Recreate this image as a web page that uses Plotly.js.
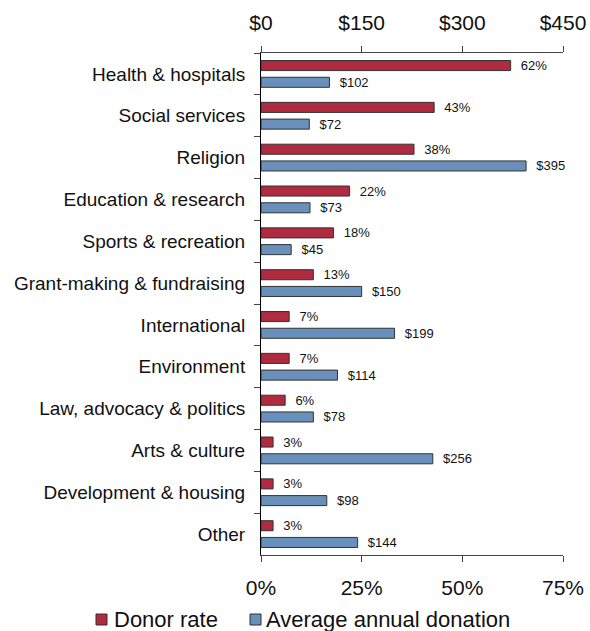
<!DOCTYPE html>
<html>
<head>
<meta charset="utf-8">
<script src="https://cdn.plot.ly/plotly-3.0.1.min.js"></script>
<style>html,body{margin:0;padding:0;background:#fff}#chart{width:590px;height:631px}</style>
</head>
<body>
<div id="chart"></div>
<script>
const categories = ["Health & hospitals","Social services","Religion","Education & research","Sports & recreation","Grant-making & fundraising","International","Environment","Law, advocacy & politics","Arts & culture","Development & housing","Other"];
const donorRate = [62,43,38,22,18,13,7,7,6,3,3,3];
const avgDonation = [102,72,395,73,45,150,199,114,78,256,98,144];
const seriesNames = ["Donor rate","Average annual donation"];
const rateTicks = [0,25,50,75];
const rateTickLabels = ["0%","25%","50%","75%"];
const donationTicks = [0,150,300,450];
const donationTickLabels = ["$0","$150","$300","$450"];

const red = "#B02A40";
const blue = "#6990BA";
const font = "Liberation Sans, Arial, sans-serif";

const W = 590, H = 631;
const M = {l: 261, r: 27, t: 53, b: 76};
const pw = W - M.l - M.r, ph = H - M.t - M.b;
const px2x = px => (px - M.l) / pw;
const py2y = py => (H - M.b - py) / ph;

const traces = [
  {
    type: "bar", orientation: "h", name: seriesNames[0],
    x: donorRate, y: categories, xaxis: "x", yaxis: "y",
    width: 0.24, offset: -0.32,
    marker: {color: red, line: {color: "#333", width: 1}},
    text: donorRate.map(v => "\u00a0\u00a0" + v + "%"),
    textposition: "outside", constraintext: "none", cliponaxis: false,
    textfont: {family: font, size: 13, color: "#111"},
    hoverinfo: "skip", showlegend: false
  },
  {
    type: "bar", orientation: "h", name: seriesNames[1],
    x: avgDonation, y: categories, xaxis: "x2", yaxis: "y",
    width: 0.24, offset: 0.08,
    marker: {color: blue, line: {color: "#333", width: 1}},
    text: avgDonation.map(v => "\u00a0\u00a0$" + v),
    textposition: "outside", constraintext: "none", cliponaxis: false,
    textfont: {family: font, size: 13, color: "#111"},
    hoverinfo: "skip", showlegend: false
  }
];

// manual legend (layout decoration)
const legendItems = [
  {name: seriesNames[0], color: red, sq: 96, tx: 112},
  {name: seriesNames[1], color: blue, sq: 250, tx: 264}
];
const shapes = legendItems.map(it => ({
  type: "rect", xref: "paper", yref: "paper",
  x0: px2x(it.sq), x1: px2x(it.sq + 11), y0: py2y(625), y1: py2y(614),
  fillcolor: it.color, line: {color: "#333", width: 1}, layer: "above"
}));
const annotations = legendItems.map(it => ({
  xref: "paper", yref: "paper", x: px2x(it.tx), y: py2y(620),
  xanchor: "left", yanchor: "middle", showarrow: false,
  text: it.name, font: {family: font, size: 22, color: "#111"}
}));

const layout = {
  width: W, height: H,
  margin: M,
  paper_bgcolor: "#fff", plot_bgcolor: "#fff",
  font: {family: font, color: "#111"},
  showlegend: false,
  barmode: "overlay",
  shapes: shapes,
  annotations: annotations,
  xaxis: {
    range: [0, 75], tickvals: rateTicks, ticktext: rateTickLabels,
    side: "bottom", showgrid: false, zeroline: false,
    showline: true, linecolor: "#444", linewidth: 1,
    ticks: "outside", ticklen: 6, tickcolor: "#444",
    tickfont: {family: font, size: 21, color: "#111"},
    ticklabelstandoff: 8
  },
  xaxis2: {
    range: [0, 450], tickvals: donationTicks, ticktext: donationTickLabels,
    overlaying: "x", side: "top", showgrid: false, zeroline: false,
    showline: true, linecolor: "#444", linewidth: 1,
    ticks: "outside", ticklen: 6, tickcolor: "#444",
    tickfont: {family: font, size: 21, color: "#111"},
    ticklabelstandoff: 8
  },
  yaxis: {
    type: "category", range: [11.5, -0.5],
    showgrid: false, zeroline: false,
    showline: true, linecolor: "#000", linewidth: 1,
    ticks: "outside", tickson: "boundaries", ticklen: 6, tickcolor: "#444",
    tickfont: {family: font, size: 19, color: "#111"},
    ticklabelstandoff: 11
  }
};

Plotly.newPlot("chart", traces, layout, {displayModeBar: false, staticPlot: true});
</script>
</body>
</html>
